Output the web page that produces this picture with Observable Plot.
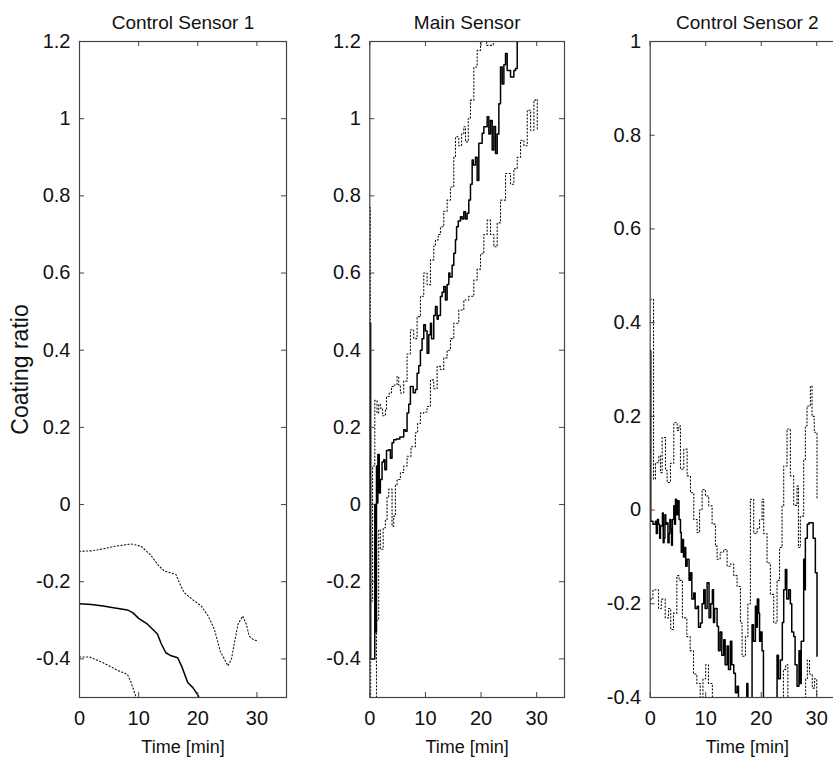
<!DOCTYPE html>
<html><head><meta charset="utf-8">
<script src="https://cdn.jsdelivr.net/npm/d3@7"></script>
<script src="https://cdn.jsdelivr.net/npm/@observablehq/plot@0.6"></script>
<style>
html,body{margin:0;padding:0;background:#fff;}
#chart{position:relative;width:833px;height:758px;overflow:hidden;background:#fff;}
#chart svg{position:absolute;top:0;}
</style></head><body><div id="chart"></div>
<script>
// ---- tick labels ----
const xTicks = [0, 10, 20, 30];
const yTicksWide = [-0.4, -0.2, 0, 0.2, 0.4, 0.6, 0.8, 1, 1.2];
const yTicksCS2 = [-0.4, -0.2, 0, 0.2, 0.4, 0.6, 0.8, 1];
const titles = ["Control Sensor 1", "Main Sensor", "Control Sensor 2"];
const xLabel = "Time [min]";
const yLabel = "Coating ratio";

// ---- Control Sensor 1: [time, ratio] ----
const cs1Mean = [[0,-0.257],[2,-0.259],[4,-0.263],[6,-0.268],[8.1,-0.273],[9,-0.28],[10,-0.295],[11.5,-0.31],[12.5,-0.325],[13.2,-0.336],[13.8,-0.36],[14.6,-0.384],[15.5,-0.392],[16.6,-0.397],[17.3,-0.42],[18.3,-0.461],[19.2,-0.475],[20.1,-0.496],[20.6,-0.52]];
const cs1Upper = [[0,-0.121],[2,-0.12],[3.6,-0.116],[6,-0.108],[8.7,-0.102],[10.4,-0.108],[12,-0.13],[13.2,-0.155],[14.3,-0.172],[16.3,-0.181],[17.1,-0.21],[17.7,-0.228],[19,-0.245],[20.6,-0.263],[21.8,-0.29],[22.8,-0.323],[23.8,-0.38],[25.1,-0.418],[25.7,-0.4],[26.2,-0.358],[26.8,-0.31],[27.6,-0.289],[28.2,-0.31],[28.7,-0.341],[29.4,-0.35],[30.2,-0.354]];
const cs1Lower = [[0,-0.395],[1.7,-0.395],[4,-0.41],[6.5,-0.43],[8.1,-0.44],[8.7,-0.46],[9.3,-0.487],[9.8,-0.51]];

// ---- Main Sensor ----
const mainMean = [[0,0.47],[0.15,-0.4],[0.8,-0.4],[0.9,0.0],[1.05,-0.33],[1.2,0.1],[1.3,0.004],[1.45,0.13],[1.7,0.03],[1.9,0.065],[2.2,0.11],[2.5,0.116],[2.7,0.09],[3.0,0.14],[3.4,0.142],[3.7,0.12],[4.0,0.16],[4.3,0.168],[4.8,0.17],[5.4,0.175],[6.1,0.194],[6.4,0.19],[6.7,0.237],[7.0,0.26],[7.3,0.306],[7.8,0.29],[8.2,0.298],[8.5,0.34],[8.8,0.36],[9.1,0.40],[9.4,0.43],[9.7,0.466],[10.0,0.45],[10.3,0.392],[10.6,0.44],[10.9,0.47],[11.1,0.43],[11.5,0.49],[11.8,0.513],[12.1,0.48],[12.3,0.49],[12.7,0.539],[13.0,0.55],[13.3,0.565],[13.6,0.53],[13.9,0.57],[14.2,0.60],[14.4,0.59],[14.8,0.62],[15.1,0.651],[15.4,0.686],[15.6,0.72],[15.9,0.735],[16.3,0.746],[16.6,0.74],[16.9,0.759],[17.2,0.74],[17.5,0.755],[17.8,0.789],[18.1,0.83],[18.4,0.893],[18.6,0.88],[19.0,0.90],[19.3,0.84],[19.6,0.936],[20.2,0.962],[20.5,0.979],[21.1,1.005],[21.4,0.96],[21.7,0.995],[22.0,0.919],[22.3,0.98],[22.6,0.91],[22.9,0.96],[23.2,1.039],[23.5,1.134],[23.8,1.09],[24.1,1.14],[24.4,1.169],[24.7,1.125],[25.3,1.108],[25.9,1.125],[26.2,1.13],[26.5,1.2],[26.7,1.25]];
const mainUpper = [[0,0.77],[0.1,-0.25],[0.5,0.1],[0.9,0.27],[1.3,0.237],[1.6,0.26],[1.9,0.25],[2.3,0.23],[2.8,0.246],[3.0,0.28],[3.5,0.29],[3.9,0.306],[4.4,0.31],[4.9,0.332],[5.2,0.31],[5.5,0.289],[6.1,0.32],[6.7,0.39],[7.3,0.453],[7.9,0.43],[8.5,0.487],[9.1,0.54],[9.7,0.60],[10.3,0.57],[10.9,0.634],[11.5,0.67],[11.8,0.686],[12.3,0.70],[12.7,0.72],[13.3,0.76],[13.9,0.789],[14.5,0.823],[15.1,0.90],[15.4,0.953],[16.0,0.93],[16.5,0.96],[16.9,0.979],[17.2,0.94],[17.7,1.0],[18.1,1.048],[18.7,1.134],[19.3,1.177],[19.9,1.21],[20.5,1.22],[21.0,1.19],[21.6,1.19],[22.2,1.21]];
const mainLower = [[0,0.18],[0.15,-0.5],[0.9,-0.55],[1.2,-0.3],[1.6,-0.065],[1.9,-0.116],[2.4,-0.06],[2.8,-0.04],[3.1,0.02],[3.4,0.04],[4.0,-0.056],[4.3,-0.03],[4.6,0.05],[4.9,0.065],[5.5,0.083],[6.1,0.1],[6.7,0.125],[7.4,0.15],[8.2,0.186],[8.6,0.21],[9.1,0.237],[9.7,0.24],[10.3,0.254],[10.9,0.323],[11.5,0.30],[12.1,0.358],[12.7,0.35],[13.3,0.38],[13.9,0.40],[14.5,0.43],[15.1,0.47],[16.0,0.504],[16.9,0.53],[17.8,0.54],[18.7,0.582],[19.3,0.61],[19.9,0.65],[20.5,0.70],[21.1,0.737],[21.7,0.70],[22.3,0.668],[22.9,0.73],[23.5,0.789],[24.4,0.858],[25.3,0.83],[25.9,0.87],[26.5,0.90],[27.1,0.944],[27.7,0.93],[28.3,1.022],[28.9,0.97],[29.5,1.048],[29.8,1.05],[30.1,0.97]];

// ---- Control Sensor 2 ----
const cs2Mean = [[0,0.34],[0.1,-0.024],[0.5,-0.03],[0.95,-0.024],[1.1,-0.05],[1.3,-0.02],[1.5,-0.03],[1.7,-0.06],[1.85,-0.034],[2.2,-0.006],[2.35,-0.07],[2.5,-0.06],[2.65,-0.01],[2.8,-0.03],[3.05,-0.027],[3.2,-0.07],[3.4,-0.05],[3.55,-0.02],[3.7,-0.04],[3.85,-0.075],[4.0,-0.02],[4.25,0.009],[4.4,-0.03],[4.55,0.023],[4.75,-0.01],[4.95,0.02],[5.2,-0.02],[5.45,-0.048],[5.6,-0.09],[5.75,-0.063],[6.0,-0.1],[6.2,-0.08],[6.4,-0.12],[6.65,-0.105],[7.0,-0.15],[7.25,-0.134],[7.5,-0.19],[7.85,-0.177],[8.1,-0.21],[8.45,-0.205],[8.7,-0.25],[9.05,-0.241],[9.35,-0.2],[9.65,-0.17],[9.9,-0.21],[10.25,-0.155],[10.6,-0.23],[10.9,-0.2],[11.2,-0.17],[11.4,-0.24],[11.6,-0.21],[12.05,-0.248],[12.3,-0.3],[12.6,-0.26],[12.9,-0.31],[13.25,-0.277],[13.5,-0.33],[13.85,-0.29],[14.1,-0.34],[14.45,-0.28],[14.7,-0.33],[15.05,-0.348],[15.35,-0.39],[15.65,-0.376],[15.9,-0.42],[16.5,-0.45],[17.2,-0.43],[17.4,-0.37],[17.6,-0.44],[18.3,-0.45],[18.35,-0.245],[18.6,-0.28],[18.95,-0.205],[19.1,-0.25],[19.3,-0.19],[19.55,-0.22],[19.7,-0.28],[19.9,-0.26],[20.15,-0.3],[20.4,-0.42],[21.0,-0.45],[21.5,-0.44],[22.0,-0.42],[22.8,-0.44],[22.85,-0.31],[23.1,-0.36],[23.45,-0.32],[23.8,-0.24],[24.05,-0.17],[24.35,-0.127],[24.6,-0.19],[24.95,-0.17],[25.25,-0.2],[25.5,-0.26],[25.85,-0.27],[26.1,-0.33],[26.45,-0.376],[26.8,-0.3],[27.0,-0.37],[27.2,-0.28],[27.65,-0.105],[27.8,-0.17],[27.95,-0.06],[28.3,-0.03],[28.6,-0.027],[29.15,-0.027],[29.35,-0.06],[29.75,-0.134],[30.05,-0.312]];
const cs2Upper = [[0,0.45],[0.6,0.066],[0.95,0.101],[1.55,0.116],[1.85,0.08],[2.15,0.155],[2.75,0.085],[3.05,0.059],[3.65,0.10],[4.25,0.187],[4.85,0.17],[5.15,0.18],[5.45,0.087],[6.05,0.13],[6.65,0.073],[7.25,0.037],[7.85,-0.02],[8.45,-0.048],[8.9,0.0],[9.35,0.044],[9.95,0.03],[10.55,0.009],[11.15,-0.03],[11.75,-0.077],[12.05,-0.105],[12.6,-0.09],[13.25,-0.084],[13.85,-0.12],[14.45,-0.115],[15.05,-0.14],[15.65,-0.163],[16.25,-0.241],[16.55,-0.312],[17.15,-0.27],[17.6,-0.2],[18.05,0.023],[18.65,-0.05],[19.25,-0.04],[19.7,-0.02],[20.15,0.023],[20.45,-0.05],[21.05,-0.113],[21.65,-0.18],[22.25,-0.241],[22.85,-0.15],[23.3,-0.08],[23.75,0.009],[24.05,0.094],[24.65,0.173],[25.25,0.073],[25.85,0.01],[26.45,0.051],[26.7,-0.08],[27.05,-0.013],[27.65,0.108],[27.95,0.18],[28.25,0.222],[28.85,0.265],[29.15,0.2],[29.55,0.166],[30.05,0.023]];
const cs2Lower = [[0,-0.19],[0.5,-0.17],[1,-0.17],[1.5,-0.21],[2,-0.19],[2.7,-0.23],[3.3,-0.21],[3.7,-0.255],[4.2,-0.22],[4.8,-0.14],[5.2,-0.15],[5.8,-0.23],[6.6,-0.27],[7.2,-0.3],[7.8,-0.35],[8.4,-0.37],[9,-0.4],[9.5,-0.36],[10,-0.33],[10.5,-0.37],[11.2,-0.4],[11.6,-0.42],[12.5,-0.46],[14,-0.5],[15.5,-0.48],[17,-0.47],[18,-0.45],[19,-0.44],[20,-0.47],[21,-0.5],[22.5,-0.5],[23.5,-0.45],[24,-0.34],[24.4,-0.33],[24.8,-0.42],[25.5,-0.48],[26.5,-0.47],[27.5,-0.42],[28,-0.36],[28.3,-0.32],[28.7,-0.35],[29.2,-0.38],[29.6,-0.36],[30,-0.42]];

const FONT = "'Liberation Sans', Arial, Helvetica, sans-serif";
const H = 758, MT = 41, MB = 61;
const fmt = d => String(Math.round(d * 10) / 10);

function panel({title, left, width, mL, mR, yDomain, yTicks, mean, upper, lower, showYLabel, curve}) {
  const fw = width - mL - mR, fh = H - MT - MB;
  const axisColor = "#444";
  const marks = [
    Plot.line(upper, {x: d => d[0], y: d => d[1], stroke: "#111", strokeWidth: 1.1, strokeDasharray: "1.2,2.3", curve, clip: true}),
    Plot.line(lower, {x: d => d[0], y: d => d[1], stroke: "#111", strokeWidth: 1.1, strokeDasharray: "1.2,2.3", curve, clip: true}),
    Plot.line(mean, {x: d => d[0], y: d => d[1], stroke: "#000", strokeWidth: 1.5, curve, clip: true}),
    Plot.frame({stroke: axisColor, strokeWidth: 1.2}),
    Plot.tickY(yTicks, {y: d => d, insetRight: fw - 5, stroke: axisColor}),
    Plot.tickY(yTicks, {y: d => d, insetLeft: fw - 5, stroke: axisColor}),
    Plot.tickX(xTicks, {x: d => d, insetTop: fh - 5, stroke: axisColor}),
    Plot.tickX(xTicks, {x: d => d, insetBottom: fh - 5, stroke: axisColor}),
    Plot.axisY(yTicks, {anchor: "left", tickSize: 0, tickPadding: 9, tickFormat: fmt, label: null, fontSize: 20, fill: "#111"}),
    Plot.axisX(xTicks, {anchor: "bottom", tickSize: 0, tickPadding: 13, tickFormat: fmt, label: null, fontSize: 20, fill: "#111"}),
    Plot.text([title], {frameAnchor: "top", dy: -13, lineAnchor: "bottom", fontSize: 19, fill: "#111"}),
    Plot.text([xLabel], {frameAnchor: "bottom", dy: 55, lineAnchor: "bottom", fontSize: 18, fill: "#111"})
  ];
  if (showYLabel) marks.push(Plot.text([yLabel], {frameAnchor: "left", dx: -59, rotate: -90, textAnchor: "middle", lineAnchor: "middle", fontSize: 23, fill: "#111"}));
  const svg = Plot.plot({
    width, height: H, marginLeft: mL, marginRight: mR, marginTop: MT, marginBottom: MB,
    x: {domain: [0, 35]}, y: {domain: yDomain},
    style: {fontFamily: FONT, fontSize: "20px", color: "#111", background: "transparent", overflow: "visible"},
    marks
  });
  svg.style.left = left + "px";
  document.getElementById("chart").appendChild(svg);
}

panel({title: titles[0], left: 0, width: 300, mL: 79, mR: 14, yDomain: [-0.5, 1.2], yTicks: yTicksWide, mean: cs1Mean, upper: cs1Upper, lower: cs1Lower, showYLabel: true, curve: "linear"});
panel({title: titles[1], left: 290, width: 290, mL: 79.3, mR: 16, yDomain: [-0.5, 1.2], yTicks: yTicksWide, mean: mainMean, upper: mainUpper, lower: mainLower, curve: "step-after"});
panel({title: titles[2], left: 575, width: 290, mL: 74.7, mR: 21, yDomain: [-0.4, 1], yTicks: yTicksCS2, mean: cs2Mean, upper: cs2Upper, lower: cs2Lower, curve: "step-after"});
</script></body></html>
